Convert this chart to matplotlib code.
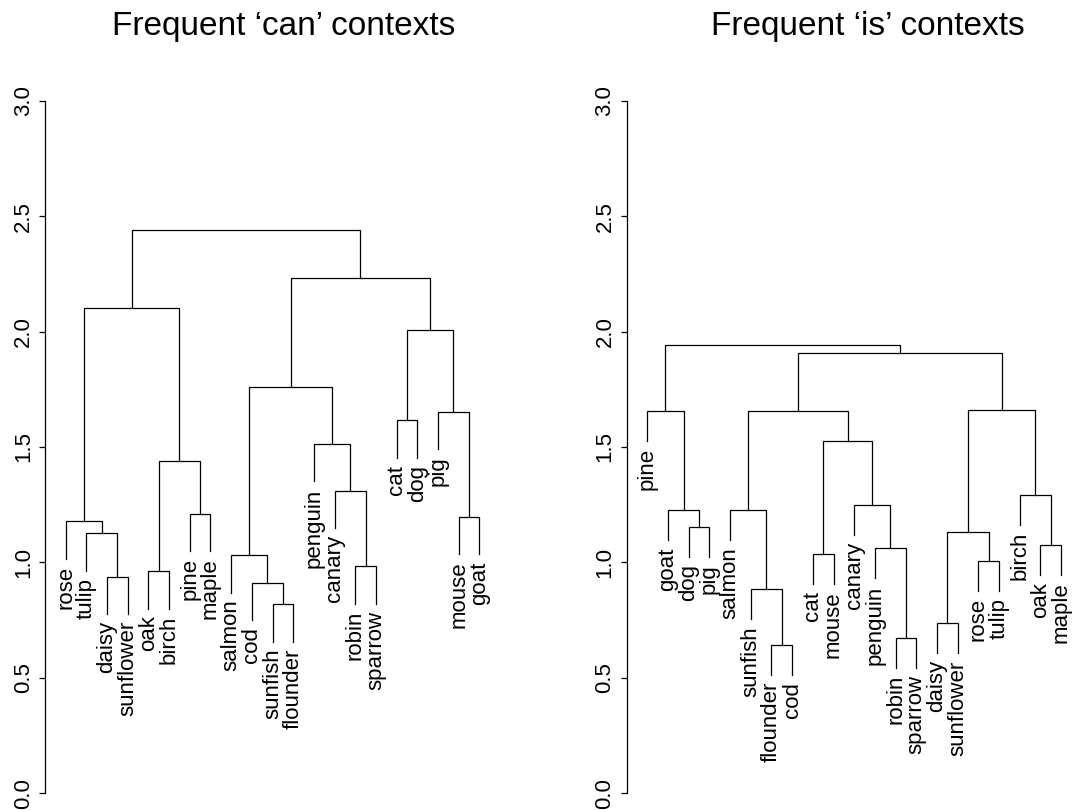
import matplotlib
matplotlib.use('Agg')
import matplotlib.pyplot as plt

plt.rcParams['font.family'] = ['Liberation Sans', 'DejaVu Sans']

# leaves in plotting order, merges as (child, child, height)
# a child is a leaf name or the index of an earlier merge
leaves_can = ['rose', 'tulip', 'daisy', 'sunflower', 'oak', 'birch', 'pine', 'maple',
              'salmon', 'cod', 'sunfish', 'flounder', 'penguin', 'canary', 'robin',
              'sparrow', 'cat', 'dog', 'pig', 'mouse', 'goat']
merges_can = [
    ('sunfish', 'flounder', 0.819),
    ('cod', 0, 0.912),
    ('daisy', 'sunflower', 0.939),
    ('oak', 'birch', 0.962),
    ('robin', 'sparrow', 0.983),
    ('salmon', 1, 1.032),
    ('tulip', 2, 1.126),
    ('rose', 6, 1.179),
    ('mouse', 'goat', 1.197),
    ('pine', 'maple', 1.210),
    ('canary', 4, 1.310),
    (3, 9, 1.440),
    ('penguin', 10, 1.513),
    ('cat', 'dog', 1.616),
    ('pig', 8, 1.652),
    (5, 12, 1.760),
    (13, 14, 2.007),
    (7, 11, 2.102),
    (15, 16, 2.232),
    (17, 18, 2.442),
]

leaves_is = ['pine', 'goat', 'dog', 'pig', 'salmon', 'sunfish', 'flounder', 'cod',
             'cat', 'mouse', 'canary', 'penguin', 'robin', 'sparrow', 'daisy',
             'sunflower', 'rose', 'tulip', 'birch', 'oak', 'maple']
merges_is = [
    ('flounder', 'cod', 0.642),
    ('robin', 'sparrow', 0.674),
    ('daisy', 'sunflower', 0.736),
    ('sunfish', 0, 0.883),
    ('rose', 'tulip', 1.007),
    ('cat', 'mouse', 1.036),
    ('penguin', 1, 1.061),
    ('oak', 'maple', 1.076),
    (2, 4, 1.130),
    ('dog', 'pig', 1.152),
    ('goat', 9, 1.225),
    ('salmon', 3, 1.225),
    ('canary', 6, 1.250),
    ('birch', 7, 1.294),
    (5, 12, 1.524),
    ('pine', 10, 1.656),
    (11, 14, 1.658),
    (8, 13, 1.659),
    (16, 17, 1.906),
    (15, 18, 1.941),
]

titles = ['Frequent \u2018can\u2019 contexts', 'Frequent \u2018is\u2019 contexts']
yticks = [0.0, 0.5, 1.0, 1.5, 2.0, 2.5, 3.0]


def draw_dendro(ax, leaves, merges):
    hs = [m[2] for m in merges]
    hang = 0.1 * (max(hs) - min(hs))  # leaf lines hang like R's hclust plot
    pos = {name: i + 1 for i, name in enumerate(leaves)}
    node_x = []

    def child(c, h):
        # x of the child and bottom of its vertical line
        if isinstance(c, str):
            return pos[c], h - hang, True
        return node_x[c], merges[c][2], False

    for a, b, h in merges:
        xa, ya, la = child(a, h)
        xb, yb, lb = child(b, h)
        ax.plot([xa, xa, xb, xb], [ya, h, h, yb], color='black', lw=0.9,
                solid_joinstyle='miter')
        for c, x, y, leaf in [(a, xa, ya, la), (b, xb, yb, lb)]:
            if leaf:
                ax.annotate(c, (x, y), xytext=(0, -5), textcoords='offset points',
                            rotation=90, ha='center', va='top', fontsize=16)
        node_x.append((xa + xb) / 2)


fig = plt.figure(figsize=(10.92, 8.10), dpi=100)
W, H = 1092, 810
lefts = [45, 626.7]
title_x = [284, 867.7]

for k, (leaves, merges) in enumerate([(leaves_can, merges_can), (leaves_is, merges_is)]):
    ax = fig.add_axes([lefts[k] / W, (H - 793.3) / H, 455 / W, (793.3 - 100.7) / H])
    draw_dendro(ax, leaves, merges)
    ax.set_xlim(0, 22)
    ax.set_ylim(0, 3)
    for s in ['top', 'right', 'bottom']:
        ax.spines[s].set_visible(False)
    ax.spines['left'].set_bounds(0, 3)
    ax.spines['left'].set_linewidth(0.9)
    ax.set_xticks([])
    ax.set_yticks(yticks)
    ax.set_yticklabels(['%.1f' % t for t in yticks], rotation=90, va='center', fontsize=16)
    ax.tick_params(axis='y', length=4, width=0.9, pad=4)
    fig.text(title_x[k] / W, 1 - 27 / H, titles[k], ha='center', va='center', fontsize=24)

fig.savefig('out.png', dpi=100)
